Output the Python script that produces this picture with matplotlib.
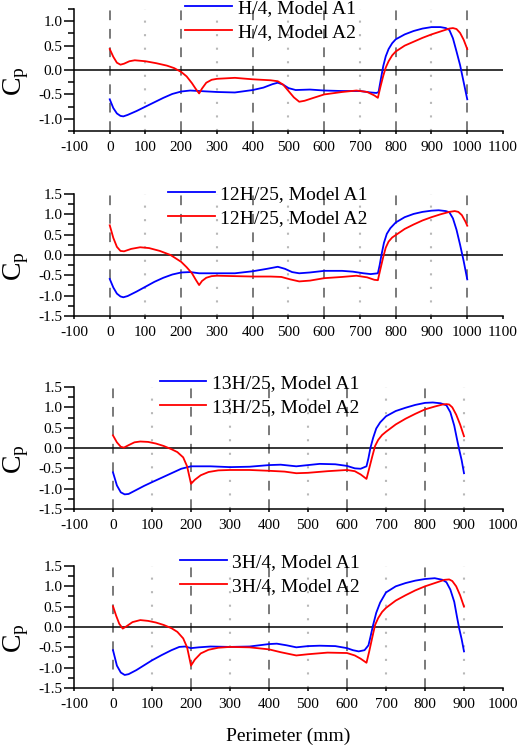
import matplotlib
matplotlib.use("Agg")
import matplotlib.pyplot as plt
from matplotlib.ticker import MultipleLocator

plt.rcParams['font.family'] = ['Liberation Serif', 'DejaVu Serif']
plt.rcParams['mathtext.fontset'] = 'custom'
plt.rcParams['mathtext.rm'] = 'Liberation Serif'
plt.rcParams['axes.unicode_minus'] = False

# panel 1 : H/4
p1_x_a1 = [0, 10, 20, 30, 38, 50, 75, 100, 125, 150, 175, 200, 225, 250, 300, 350, 400, 430, 455, 470,
           485, 500, 520, 560, 600, 650, 700, 730, 746, 752, 758, 765, 772, 780, 790, 800, 825, 850, 875,
           900, 925, 940, 950, 960, 970, 980, 990, 1000]
p1_cp_a1 = [-0.60, -0.78, -0.89, -0.94, -0.95, -0.92, -0.84, -0.75, -0.66, -0.57, -0.49, -0.44, -0.42, -0.43,
            -0.45, -0.46, -0.41, -0.36, -0.29, -0.26, -0.30, -0.37, -0.41, -0.40, -0.42, -0.43, -0.43, -0.46,
            -0.47, -0.45, -0.20, 0.08, 0.28, 0.43, 0.55, 0.63, 0.73, 0.80, 0.85, 0.88, 0.88, 0.86, 0.82, 0.65,
            0.38, 0.10, -0.25, -0.60]
p1_x_a2 = [0, 10, 20, 30, 40, 55, 70, 100, 130, 160, 180, 200, 215, 230, 240, 250, 258, 270, 285, 300, 350,
           400, 450, 470, 485, 500, 515, 530, 545, 570, 600, 650, 690, 720, 740, 750, 757, 765, 772, 780, 790,
           800, 825, 850, 875, 900, 925, 950, 960, 970, 980, 990, 1000]
p1_cp_a2 = [0.43, 0.27, 0.15, 0.11, 0.13, 0.18, 0.20, 0.18, 0.14, 0.09, 0.04, -0.04, -0.13, -0.27, -0.38,
            -0.48, -0.38, -0.26, -0.20, -0.18, -0.16, -0.19, -0.21, -0.23, -0.30, -0.43, -0.56, -0.65, -0.63,
            -0.57, -0.50, -0.45, -0.42, -0.45, -0.52, -0.57, -0.35, -0.12, 0.05, 0.18, 0.30, 0.38, 0.50, 0.58,
            0.66, 0.73, 0.79, 0.85, 0.86, 0.84, 0.76, 0.62, 0.43]

# panel 2 : 12H/25
p2_x_a1 = [0, 10, 20, 30, 38, 50, 75, 100, 125, 150, 175, 200, 225, 250, 300, 350, 400, 440, 470, 490, 510,
           530, 560, 600, 650, 680, 710, 730, 750, 755, 760, 767, 775, 785, 800, 825, 850, 875, 900, 920, 940,
           950, 960, 970, 980, 990, 1000]
p2_cp_a1 = [-0.59, -0.80, -0.95, -1.02, -1.04, -1.01, -0.90, -0.78, -0.66, -0.56, -0.48, -0.43, -0.42, -0.45,
            -0.45, -0.45, -0.40, -0.34, -0.29, -0.34, -0.42, -0.45, -0.43, -0.39, -0.39, -0.41, -0.45, -0.47,
            -0.45, -0.25, 0.0, 0.30, 0.52, 0.66, 0.80, 0.93, 1.01, 1.06, 1.09, 1.10, 1.08, 1.05, 0.90, 0.62,
            0.25, -0.15, -0.60]
p2_x_a2 = [0, 10, 20, 30, 40, 60, 85, 110, 140, 170, 200, 215, 230, 240, 250, 258, 270, 285, 300, 350, 400,
           450, 480, 505, 530, 560, 600, 650, 690, 720, 740, 750, 757, 765, 772, 780, 790, 800, 825, 850, 875,
           900, 925, 950, 965, 975, 985, 995, 1000]
p2_cp_a2 = [0.73, 0.42, 0.20, 0.10, 0.09, 0.15, 0.19, 0.17, 0.10, 0.00, -0.17, -0.30, -0.45, -0.60, -0.74,
            -0.64, -0.56, -0.52, -0.51, -0.52, -0.53, -0.53, -0.54, -0.60, -0.65, -0.63, -0.57, -0.54, -0.51,
            -0.55, -0.61, -0.62, -0.35, -0.05, 0.18, 0.33, 0.43, 0.49, 0.64, 0.75, 0.85, 0.93, 1.00, 1.06, 1.08,
            1.06, 0.98, 0.82, 0.72]

# panel 3 : 13H/25
p3_x_a1 = [0, 10, 20, 30, 40, 60, 80, 100, 125, 150, 175, 200, 250, 300, 350, 400, 430, 470, 500, 530, 570,
           600, 620, 635, 650, 655, 660, 667, 675, 685, 700, 725, 750, 775, 800, 820, 840, 855, 865, 875, 882,
           888, 894, 900]
p3_cp_a1 = [-0.60, -0.92, -1.09, -1.14, -1.13, -1.03, -0.93, -0.84, -0.73, -0.62, -0.51, -0.45, -0.45, -0.47,
            -0.46, -0.42, -0.41, -0.45, -0.42, -0.39, -0.40, -0.44, -0.50, -0.51, -0.45, -0.25, 0.0, 0.25, 0.48,
            0.63, 0.78, 0.91, 0.99, 1.06, 1.11, 1.12, 1.10, 1.05, 0.88, 0.55, 0.22, -0.05, -0.30, -0.62]
p3_x_a2 = [0, 10, 20, 28, 40, 55, 70, 90, 110, 130, 150, 165, 180, 190, 200, 210, 225, 245, 270, 300, 350,
           400, 440, 470, 500, 550, 600, 620, 635, 650, 657, 665, 672, 680, 690, 700, 725, 750, 775, 800, 825,
           845, 855, 862, 870, 880, 890, 900]
p3_cp_a2 = [0.31, 0.14, 0.03, 0.01, 0.07, 0.14, 0.16, 0.15, 0.11, 0.05, -0.03, -0.10, -0.23, -0.45, -0.88,
            -0.78, -0.67, -0.59, -0.55, -0.54, -0.54, -0.56, -0.58, -0.62, -0.61, -0.57, -0.54, -0.57, -0.65,
            -0.76, -0.50, -0.20, 0.05, 0.20, 0.32, 0.40, 0.58, 0.72, 0.84, 0.95, 1.02, 1.07, 1.08, 1.07, 1.00,
            0.82, 0.58, 0.29]

# panel 4 : 3H/4
p4_x_a1 = [0, 10, 20, 30, 40, 60, 80, 100, 125, 150, 170, 185, 200, 220, 250, 300, 350, 400, 420, 445, 470,
           500, 530, 570, 600, 615, 630, 645, 655, 660, 667, 675, 685, 700, 725, 750, 775, 800, 825, 845, 855,
           865, 875, 882, 888, 894, 900]
p4_cp_a1 = [-0.57, -0.95, -1.12, -1.18, -1.16, -1.06, -0.94, -0.82, -0.69, -0.57, -0.49, -0.48, -0.52, -0.50,
            -0.48, -0.49, -0.48, -0.42, -0.41, -0.45, -0.50, -0.47, -0.46, -0.47, -0.52, -0.57, -0.60, -0.57,
            -0.45, -0.25, 0.05, 0.35, 0.60, 0.85, 1.00, 1.08, 1.14, 1.18, 1.20, 1.16, 1.10, 0.92, 0.62, 0.25,
            -0.05, -0.30, -0.60]
p4_x_a2 = [0, 8, 16, 25, 35, 50, 70, 90, 110, 130, 150, 165, 180, 190, 200, 210, 225, 245, 270, 300, 350,
           400, 430, 470, 500, 550, 600, 620, 635, 650, 657, 665, 672, 680, 690, 700, 725, 750, 775, 800, 825,
           850, 862, 870, 880, 890, 900]
p4_cp_a2 = [0.51, 0.28, 0.08, -0.04, 0.02, 0.12, 0.17, 0.15, 0.11, 0.05, -0.03, -0.12, -0.28, -0.50, -0.95,
            -0.80, -0.65, -0.56, -0.51, -0.49, -0.50, -0.55, -0.62, -0.70, -0.67, -0.63, -0.64, -0.70, -0.78,
            -0.88, -0.60, -0.25, 0.05, 0.22, 0.37, 0.47, 0.65, 0.78, 0.90, 1.00, 1.08, 1.16, 1.17, 1.13, 1.00,
            0.78, 0.50]

heights = ["H/4", "12H/25", "13H/25", "3H/4"]

panels = [
    (p1_x_a1, p1_cp_a1, p1_x_a2, p1_cp_a2),
    (p2_x_a1, p2_cp_a1, p2_x_a2, p2_cp_a2),
    (p3_x_a1, p3_cp_a1, p3_x_a2, p3_cp_a2),
    (p4_x_a1, p4_cp_a1, p4_x_a2, p4_cp_a2),
]

# layout (figure fractions) and per-panel settings
bottoms = [0.8246, 0.5770, 0.3186, 0.0790]
ylims = [(-1.25, 1.25), (-1.5, 1.5), (-1.5, 1.5), (-1.5, 1.5)]
xmaxs = [1100, 1100, 1000, 1000]
leg_pos = [(0.259, 0.91), (0.219, 0.90), (0.200, 0.934), (0.247, 0.934)]

fig = plt.figure(figsize=(5.2, 7.47), dpi=100)

for i in range(4):
    xa1, ya1, xa2, ya2 = panels[i]
    ax = fig.add_axes([0.1423, bottoms[i], 0.825, 0.1633])
    xmax = xmaxs[i]
    data_max = max(xa1)

    # vertical guide lines
    for gx in range(0, data_max + 1, 100):
        if gx % 200 == 0:
            ax.axvline(gx, color='#7a7a7a', lw=1.4, ls=(0, (5, 4.5)), zorder=1)
        else:
            ax.axvline(gx, color='#b8b8b8', lw=1.5, ls=(0, (1, 5.5)), zorder=1)
    ax.axhline(0, color='black', lw=1.1, zorder=2)

    ax.plot(xa1, ya1, color='#0000ff', lw=1.3, label="%s, Model A1" % heights[i], zorder=3)
    ax.plot(xa2, ya2, color='#ff0000', lw=1.3, label="%s, Model A2" % heights[i], zorder=3)

    ax.set_xlim(-100, xmax)
    ax.set_ylim(*ylims[i])
    ax.xaxis.set_major_locator(MultipleLocator(100))
    ax.yaxis.set_major_locator(MultipleLocator(0.5))
    ax.yaxis.set_minor_locator(MultipleLocator(0.25))
    ax.yaxis.set_major_formatter(matplotlib.ticker.FormatStrFormatter('%.1f'))

    ax.spines['top'].set_visible(False)
    ax.spines['right'].set_visible(False)
    ax.spines['left'].set_linewidth(1.1)
    ax.spines['bottom'].set_linewidth(1.1)
    ax.tick_params(axis='x', which='major', direction='out', length=2.5, width=1.1, pad=4.5, labelsize=11)
    ax.tick_params(axis='y', which='major', direction='out', length=7, width=1.1, pad=1.5, labelsize=11)
    ax.tick_params(axis='y', which='minor', direction='out', length=4.5, width=1.1)

    ax.set_ylabel(r'$\mathrm{C_p}$', fontsize=20, va='center')
    ax.yaxis.set_label_coords(-0.136, 0.41)

    ax.legend(loc='center left', bbox_to_anchor=leg_pos[i], frameon=False, fontsize=14,
              borderpad=0, borderaxespad=0, handlelength=2.4, handletextpad=0.3, labelspacing=0.35)

    if i == 3:
        ax.set_xlabel("Perimeter (mm)", fontsize=14, labelpad=12)

plt.savefig("out.png", dpi=100)
plt.close()
